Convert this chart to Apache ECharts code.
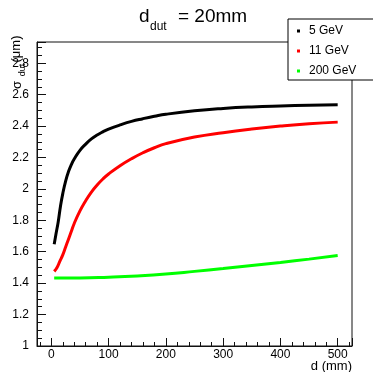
<!DOCTYPE html>
<html>
<head>
<meta charset="utf-8">
<script src="https://cdn.jsdelivr.net/npm/echarts@6/dist/echarts.min.js"></script>
<style>
  html, body {margin: 0; padding: 0; background: #fff;}
  #chart {width: 373px; height: 372px;}
</style>
</head>
<body>
<div id="chart"></div>
<script>
// values, d in mm, sigma in um
const seriesNames = ['5 GeV', '11 GeV', '200 GeV'];
const seriesColors = ['#000000', '#ff0000', '#00ff00'];

const d5 = [5, 8, 12, 16, 20, 25, 30, 35, 40, 50, 60, 70, 80, 90, 100, 120, 140, 160, 180, 200, 250, 300, 350, 400, 450, 500];
const sigma5 = [1.648, 1.71, 1.79, 1.89, 1.97, 2.05, 2.11, 2.155, 2.19, 2.245, 2.285, 2.318, 2.343, 2.363, 2.38, 2.407, 2.43, 2.447, 2.462, 2.475, 2.497, 2.512, 2.522, 2.528, 2.532, 2.535];

const d11 = [5, 10, 15, 20, 25, 30, 35, 40, 50, 60, 70, 80, 90, 100, 120, 140, 160, 180, 200, 250, 300, 350, 400, 450, 500];
const sigma11 = [1.475, 1.50, 1.54, 1.58, 1.63, 1.68, 1.73, 1.78, 1.86, 1.925, 1.98, 2.025, 2.063, 2.095, 2.148, 2.192, 2.23, 2.262, 2.288, 2.33, 2.358, 2.381, 2.40, 2.415, 2.425];

const d200 = [5, 50, 100, 150, 200, 250, 300, 350, 400, 450, 500];
const sigma200 = [1.433, 1.433, 1.438, 1.446, 1.458, 1.475, 1.493, 1.513, 1.532, 1.553, 1.576];

const xTicks = [0, 100, 200, 300, 400, 500];
const yTicks = [1, 1.2, 1.4, 1.6, 1.8, 2, 2.2, 2.4, 2.6, 2.8];

const FONT = 'Liberation Sans, Arial, Helvetica, sans-serif';
const pairs = (xs, ys) => xs.map((x, i) => [x, ys[i]]);
const allX = [d5, d11, d200];
const allY = [sigma5, sigma11, sigma200];

function label(text, x, y, size, opts) {
  return Object.assign({
    type: 'text', x, y,
    style: Object.assign({text, font: size + 'px ' + FONT, fill: '#000', align: 'left', verticalAlign: 'middle'}, opts && opts.style),
  }, opts && opts.el);
}

const vert = {el: {rotation: Math.PI / 2}, style: {align: 'center'}};

const chart = echarts.init(document.getElementById('chart'), null, {renderer: 'canvas'});
chart.setOption({
  animation: false,
  backgroundColor: '#fff',
  legend: {
    orient: 'vertical',
    left: 288,
    top: 19,
    padding: [6, 30, 3, 9],
    itemGap: 8,
    itemWidth: 3,
    itemHeight: 3,
    icon: 'rect',
    backgroundColor: '#fff',
    borderColor: '#000',
    borderWidth: 1,
    borderRadius: 0,
    textStyle: {fontFamily: FONT, fontSize: 12, color: '#000', padding: [0, 0, 0, 4]},
    data: seriesNames,
    z: 10,
  },
  grid: {
    left: 37, top: 42, width: 315, height: 304,
    show: true, borderColor: '#111', borderWidth: 1,
  },
  xAxis: {
    type: 'value',
    min: -25,
    max: 525,
    splitNumber: 5,
    axisLine: {show: true, onZero: false, lineStyle: {color: '#111', width: 1}},
    axisTick: {show: true, inside: true, length: 8, lineStyle: {color: '#111'}},
    minorTick: {show: true, splitNumber: 5, length: 4, lineStyle: {color: '#111'}},
    splitLine: {show: false},
    axisLabel: {
      fontFamily: FONT, fontSize: 12, color: '#000', margin: 3,
      formatter: v => (xTicks.includes(v) ? String(v) : ''),
    },
  },
  yAxis: {
    type: 'value',
    min: 1,
    max: 2.935,
    interval: 0.2,
    axisLine: {show: true, onZero: false, lineStyle: {color: '#111', width: 1}},
    axisTick: {show: true, inside: true, length: 9, lineStyle: {color: '#111'}},
    minorTick: {show: true, splitNumber: 4, length: 5, lineStyle: {color: '#111'}},
    splitLine: {show: false},
    axisLabel: {
      fontFamily: FONT, fontSize: 12, color: '#000', margin: 8,
      showMaxLabel: false,
      formatter: v => {
        const r = Math.round(v * 10) / 10;
        return yTicks.some(t => Math.abs(t - v) < 1e-6) ? String(r) : '';
      },
    },
  },
  graphic: [
    // title: d_dut = 20mm
    label('d', 139, 17, 19),
    label('dut', 150, 27, 12),
    label('= 20mm', 178, 17, 19),
    // y title: sigma_dut (um), rotated
    label('σ', 17, 85, 13, vert),
    label('dut', 23, 70, 9, vert),
    label('(μm)', 16, 49, 13, vert),
    // x title
    label('d (mm)', 352, 366, 13, {style: {align: 'right'}}),
  ],
  series: seriesNames.map((name, i) => ({
    name,
    type: 'line',
    data: pairs(allX[i], allY[i]),
    showSymbol: false,
    smooth: true,
    lineStyle: {color: seriesColors[i], width: 3},
    itemStyle: {color: seriesColors[i]},
  })),
});
</script>
</body>
</html>
